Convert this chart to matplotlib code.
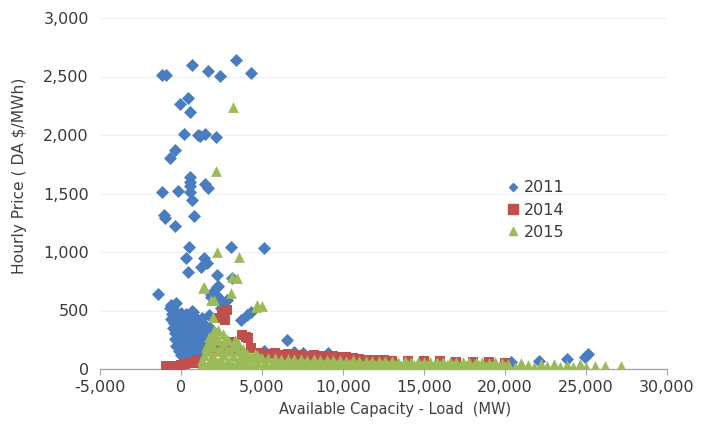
import matplotlib
matplotlib.use("Agg")
import matplotlib.pyplot as plt
from matplotlib.lines import Line2D

# ---------------- data ----------------
series_names = ["2011", "2014", "2015"]
series_colors = ["#4A7CC0", "#C0504D", "#9BBB59"]
series_markers = ["D", "s", "^"]

xticks = [-5000, 0, 5000, 10000, 15000, 20000, 25000, 30000]
xtick_labels = ["-5,000", "0", "5,000", "10,000", "15,000", "20,000", "25,000", "30,000"]
yticks = [0, 500, 1000, 1500, 2000, 2500, 3000]
ytick_labels = ["0", "500", "1,000", "1,500", "2,000", "2,500", "3,000"]

pts_2011_high = [
    (-1150, 2510), (-950, 2510), (680, 2600), (1680, 2550), (2390, 2505), (3370, 2645), (4330, 2530),
    (-60, 2265), (410, 2320), (570, 2195),
    (200, 2010), (1020, 2000), (1200, 1990), (1470, 2005), (2150, 1985),
    (-370, 1870), (-650, 1800),
    (570, 1645), (570, 1600), (570, 1560), (570, 1515), (700, 1445),
    (1470, 1585), (1680, 1550),
    (-1170, 1515), (-160, 1520),
    (-1060, 1320), (-1000, 1290), (820, 1310), (-400, 1225),
    (510, 1045), (3110, 1045), (5150, 1030),
    (300, 945), (1430, 945), (1600, 905), (1230, 875),
    (450, 830), (2250, 805), (3170, 775), (2290, 710),
    (-1400, 645), (1840, 645), (1950, 660), (2250, 700), (1840, 615),
    (-610, 545), (-300, 560), (720, 490), (2350, 605), (2560, 560), (2870, 590), (2450, 520),
    (3680, 420), (4090, 465), (4300, 490), (6540, 248),
]
pts_2011_cluster = [
    (-700, 520), (-500, 540), (-350, 500), (0, 480), (300, 470), (700, 500),
    (-600, 430), (-400, 450), (-200, 420), (100, 400), (400, 430), (900, 410), (1300, 440), (1700, 460),
    (-500, 350), (-300, 370), (-100, 330), (150, 360), (400, 320), (650, 350), (900, 300),
    (1200, 340), (1500, 380), (1800, 350),
    (-400, 260), (-200, 230), (0, 280), (250, 250), (500, 220), (750, 270), (1000, 240),
    (1250, 200), (1500, 260),
    (-100, 150), (100, 120), (300, 180), (500, 130), (700, 160), (900, 110), (1100, 170), (1300, 140),
    (200, 80), (600, 70), (1000, 90),
    (-250, 300), (50, 200), (350, 290), (600, 280), (850, 200), (1100, 300), (1350, 250),
    (-300, 480), (200, 440), (1000, 360),
    (-550, 470), (-150, 460), (550, 400), (800, 450), (1150, 400), (-450, 390), (-50, 380),
    (300, 390), (700, 380), (1400, 330), (-350, 310), (250, 320), (500, 350), (800, 330),
    (1100, 270), (-300, 200), (-100, 240), (150, 280), (400, 250), (650, 200), (900, 160),
    (1200, 110), (0, 120), (400, 110), (800, 90), (1400, 190), (1600, 300),
]
pts_2011_band = [
    (5100, 156), (5215, 148), (6950, 148), (7550, 140), (9080, 137),
    (20350, 62), (22090, 71), (23830, 83), (24950, 105), (25150, 125),
]

pts_2014 = [
    (-900, 25), (-750, 25), (-600, 25), (-450, 25), (-300, 25), (-150, 25), (0, 30),
    (250, 40), (500, 50), (850, 55), (1000, 80), (1150, 60),
    (2330, 436), (2620, 476), (2865, 504), (2700, 420), (2500, 460),
    (3785, 290), (3990, 275), (4110, 265), (3070, 233), (4300, 180), (3170, 162),
    (3500, 150), (2700, 200), (2200, 180), (4800, 140),
    (5000, 130), (5400, 125), (5800, 135), (6200, 120), (6600, 125), (7000, 118),
    (7400, 122), (7800, 115), (8200, 120), (8600, 112), (9000, 115), (9400, 108),
    (9800, 105), (10200, 100), (10600, 92), (11000, 85), (11500, 80), (12000, 78),
    (12500, 75), (13000, 72), (14000, 70), (15000, 68), (16000, 65), (17000, 62),
    (18000, 60), (19000, 58), (20000, 55),
]

pts_2015_high = [
    (3210, 2242), (2150, 1692), (2250, 1003), (3580, 955), (3475, 775), (3170, 790),
    (1330, 690), (3070, 647), (1430, 703), (2045, 590), (1840, 590), (4600, 532),
    (4705, 547), (5010, 538), (1945, 447), (2025, 333), (1720, 276),
]
pts_2015_cone = [
    (1400, 40), (1400, 120), (1300, 80),
    (1700, 60), (1700, 150), (1700, 240), (1550, 190),
    (2000, 30), (2000, 110), (2000, 200), (2000, 300), (1850, 260), (1850, 90),
    (2300, 60), (2300, 150), (2300, 250), (2300, 330), (2150, 280), (2150, 40),
    (2600, 30), (2600, 120), (2600, 210), (2600, 300), (2450, 170), (2450, 80),
    (2900, 70), (2900, 160), (2900, 250), (2750, 260), (2750, 30),
    (3200, 30), (3200, 110), (3200, 200), (3050, 150), (3350, 250),
    (3500, 60), (3500, 150), (3500, 220), (3650, 100),
    (3800, 30), (3800, 100), (3800, 170), (3950, 140),
    (4100, 60), (4100, 130), (4250, 100),
    (4400, 30), (4400, 100), (4550, 130),
    (4700, 60), (4700, 120), (4850, 90),
]
band_top_x = [5000, 5400, 5800, 6200, 6600, 7000, 7400, 7800, 8200, 8600, 9000, 9400, 9800,
              10200, 10600, 11000, 11400, 11800, 12200, 12600, 13000, 13400, 13800, 14200,
              14600, 15000, 15400, 15800, 16200, 16600, 17000, 17400, 17800, 18200, 18600,
              19000, 19400, 19800]
band_top_y = [95, 90, 93, 86, 88, 82, 85, 80, 83, 77, 80, 75, 78, 72, 74, 70, 72, 68, 70, 66,
              68, 64, 66, 63, 64, 61, 63, 60, 62, 58, 60, 57, 59, 56, 57, 55, 56, 54]
band_mid_x = [5200, 5600, 6000, 6400, 6800, 7200, 7600, 8000, 8400, 8800, 9200, 9600, 10000,
              10400, 10800, 11200, 11600, 12000, 12400, 12800, 13200, 13600, 14000, 14400,
              14800, 15200, 15600, 16000, 16400, 16800, 17200, 17600, 18000, 18400, 18800,
              19200, 19600, 20000]
band_mid_y = [48, 44, 46, 42, 45, 40, 43, 41, 38, 42, 39, 40, 37, 40, 36, 38, 35, 37, 34, 36,
              33, 35, 32, 34, 31, 33, 30, 32, 30, 31, 29, 30, 28, 30, 27, 29, 27, 28]
band_low_x = [1200, 1600, 2400, 2800, 3400, 4200, 4600, 5000, 5400, 5800, 6200, 6600, 7000,
              7400, 7800, 8200, 8600, 9000, 9400, 9800, 10200, 10600, 11000, 11400, 11800,
              12200, 12600, 13000, 13400, 13800, 14200, 14600, 15000, 15400, 15800, 16200,
              16600, 17000, 17400, 17800, 18200, 18600, 19000, 19400, 19800, 20200, 20600,
              21000, 21400, 21800, 22200, 22600, 23000, 23400, 23800, 24200, 24600]
band_low_y = [12, 10, 12, 8, 10, 12, 9, 10, 12, 8, 10, 11, 9, 10, 12, 8, 10, 11, 9, 10, 12, 8,
              10, 11, 9, 10, 12, 8, 10, 11, 9, 10, 12, 8, 10, 11, 9, 10, 12, 8, 10, 11, 9, 10,
              12, 8, 10, 11, 9, 10, 12, 8, 10, 11, 9, 10, 12]
pts_2015_tail = [
    (20200, 40), (20600, 20), (21000, 50), (21400, 30), (21800, 15), (22200, 45),
    (22600, 25), (23000, 40), (23400, 15), (23800, 35), (24200, 20), (24600, 45),
    (25000, 15), (25550, 25), (26200, 25), (27150, 25),
]

# ---------------- plot ----------------
plt.rcParams["font.family"] = ["DejaVu Sans"]
fig = plt.figure(figsize=(7.07, 4.30), dpi=100)
ax = fig.add_axes([100 / 707, 1 - 369 / 430, 567 / 707, 351 / 430])

def xy(pts):
    return [p[0] for p in pts], [p[1] for p in pts]

b_pts = pts_2011_high + pts_2011_cluster + pts_2011_band
bx, by = xy(b_pts)
ax.scatter(bx, by, s=44, marker=series_markers[0], color=series_colors[0], linewidths=0, zorder=3)

rx, ry = xy(pts_2014)
ax.scatter(rx, ry, s=46, marker=series_markers[1], color=series_colors[1], linewidths=0, zorder=3)

gx, gy = xy(pts_2015_high + pts_2015_cone + pts_2015_tail)
gx = gx + band_top_x + band_mid_x + band_low_x
gy = gy + band_top_y + band_mid_y + band_low_y
ax.scatter(gx, gy, s=60, marker=series_markers[2], color=series_colors[2], linewidths=0, zorder=3)

ax.set_xlim(-5000, 30000)
ax.set_ylim(0, 3000)
ax.set_xticks(xticks)
ax.set_xticklabels(xtick_labels)
ax.set_yticks(yticks)
ax.set_yticklabels(ytick_labels)

for s in ["left", "right", "top"]:
    ax.spines[s].set_visible(False)
ax.spines["bottom"].set_color("#A6A6A6")
ax.spines["bottom"].set_linewidth(1.0)
ax.spines["bottom"].set_zorder(2)
ax.tick_params(axis="x", direction="out", length=4, color="#A6A6A6", labelsize=11.5,
               labelcolor="#3A3A3A", pad=4)
ax.tick_params(axis="y", length=0, labelsize=11.5, labelcolor="#3A3A3A", pad=8)
ax.yaxis.grid(True, color="#F0F0F0", linewidth=0.8)
ax.set_axisbelow(True)

ax.set_xlabel("Available Capacity - Load  (MW)", fontsize=10.5, color="#404040", labelpad=7)
ax.xaxis.set_label_coords(0.52, -0.095)
ax.set_ylabel("Hourly Price ( DA $/MWh)", fontsize=11.2, color="#404040", labelpad=6)
ax.yaxis.set_label_coords(-0.128, 0.55)

handles = [Line2D([], [], linestyle="none", marker=m, color=c, markersize=ms)
           for m, c, ms in zip(series_markers, series_colors, [4.5, 6.5, 5.5])]
leg = fig.legend(handles, series_names, loc="upper left", bbox_to_anchor=(500 / 707, 1 - 174 / 430),
                 frameon=False, fontsize=11.5, handlelength=0.8, handletextpad=0.3,
                 labelspacing=0.45, borderaxespad=0)
for t in leg.get_texts():
    t.set_color("#3A3A3A")

fig.savefig("out.png", dpi=100)
